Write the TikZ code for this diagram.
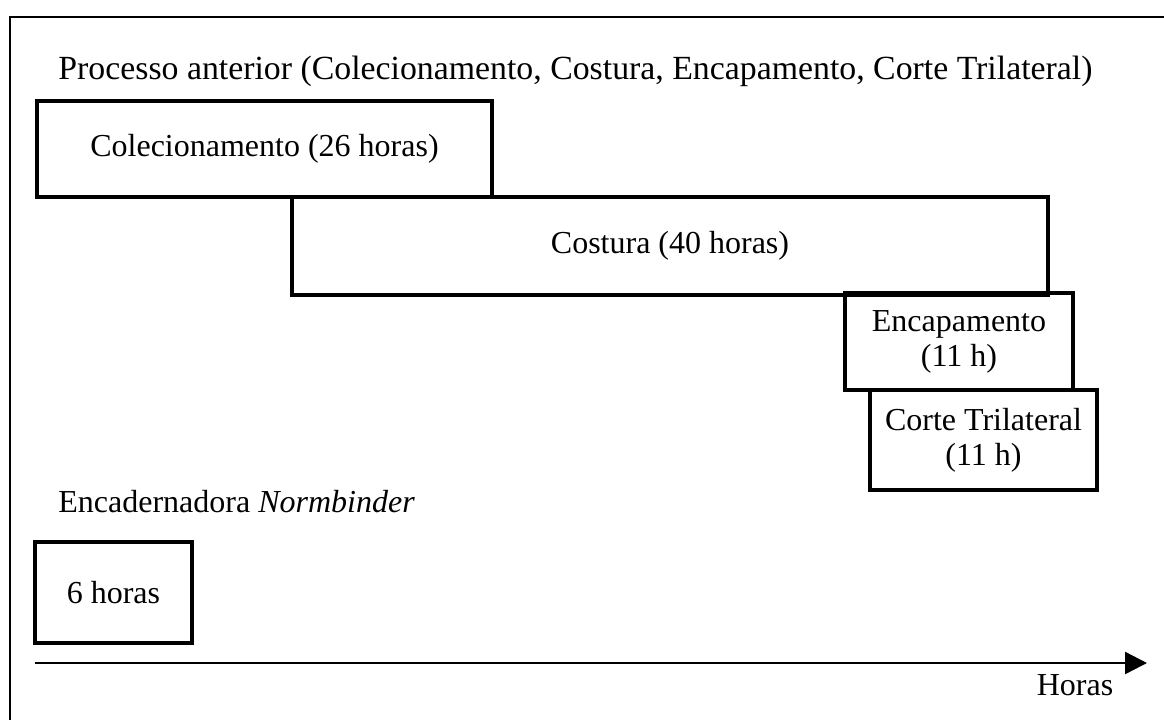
\documentclass[tikz,border=0pt]{standalone}
\usepackage{fontspec}
\setmainfont{Liberation Serif}
\usetikzlibrary{positioning,arrows.meta}

\begin{document}
\begin{tikzpicture}[x=0.5pt,y=-0.5pt,>={Triangle[length=11pt,width=11pt]},
  every node/.style={font=\fontsize{16}{17.5}\selectfont},
  gbox/.style={draw,line width=1.7pt,inner sep=0pt,align=center},
  lbl/.style={anchor=west,inner sep=0pt}]
\useasboundingbox (0,0) rectangle (1164,719);
\clip (0,0) rectangle (1164,719);
\draw[line width=1.2pt] (10,17) rectangle (1180,740);
\node[lbl,font=\fontsize{16.9}{18}\selectfont] (title) at (58,71) {Processo anterior (Colecionamento, Costura, Encapamento, Corte Trilateral)};
\node[gbox,minimum width=227.5pt,minimum height=48pt] (col) at (264.5,149) {Colecionamento (26 horas)};
\node[gbox,minimum width=378pt,minimum height=49pt] (cos) at (670,246) {Costura (40 horas)};
\node[gbox,minimum width=114pt,minimum height=48.5pt] (enc) at (959,341.5) {Encapamento\\(11 h)};
\node[gbox,minimum width=113.5pt,minimum height=50pt] (cor) at (983.5,440) {Corte Trilateral\\(11 h)};
\node[lbl] (nb) at (58,502) {Encadernadora \textit{Normbinder}};
\node[gbox,minimum width=78.5pt,minimum height=50.5pt] (six) at (113.5,592.5) {6 horas};
\coordinate (t0) at (35,663);
\coordinate (t1) at (1147,663);
\draw[->,line width=1.2pt] (t0)--(t1);
\node (horas) at (1075,685) {Horas};
\end{tikzpicture}
\end{document}
